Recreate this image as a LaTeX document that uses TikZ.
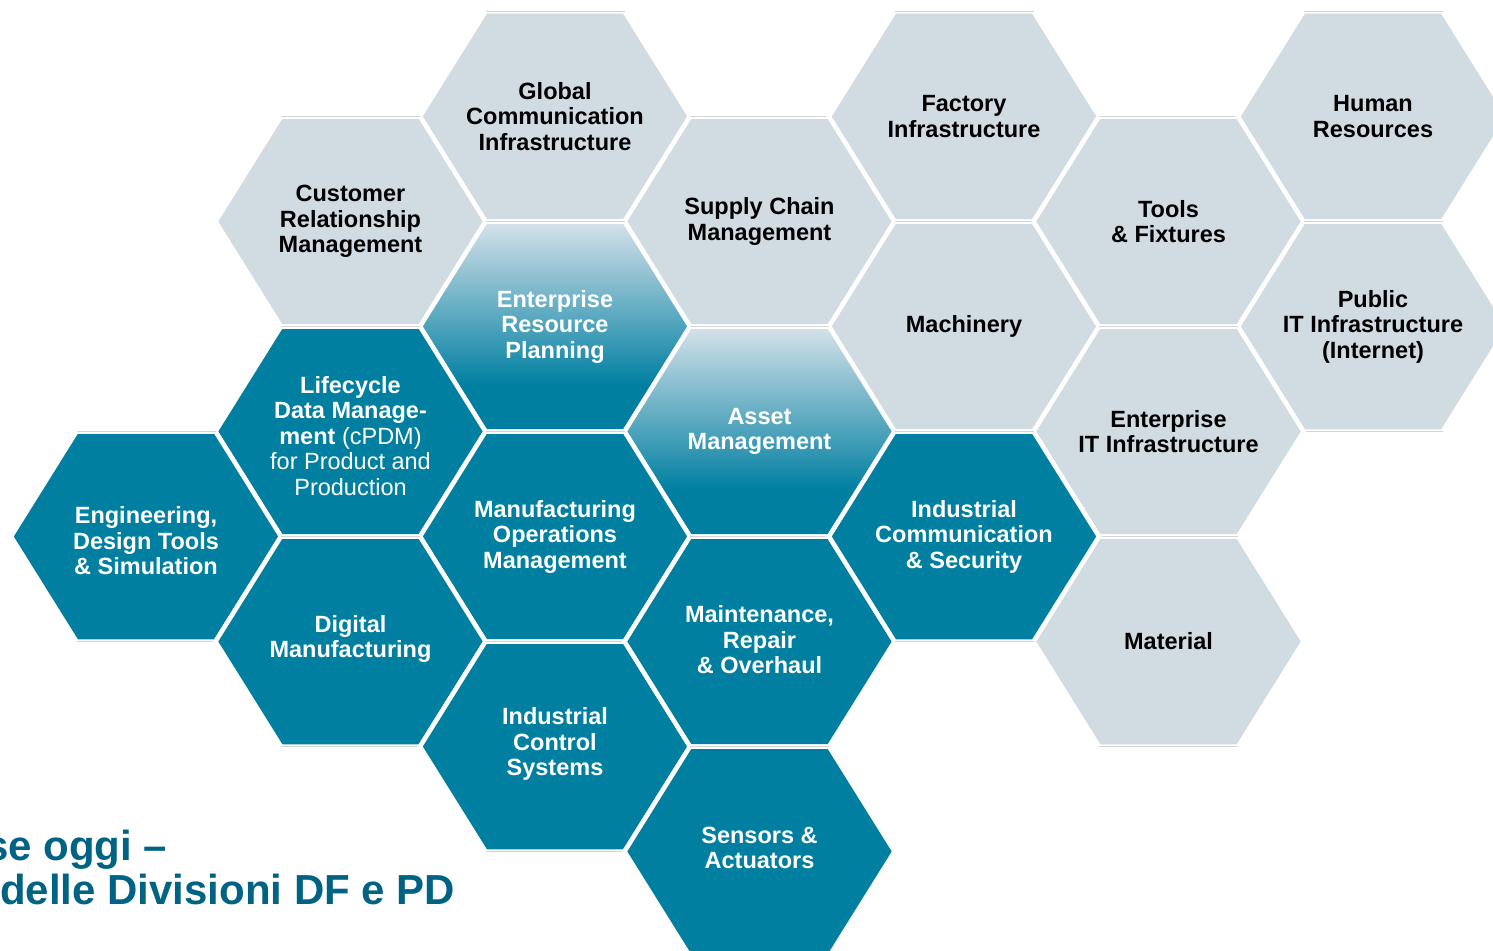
\documentclass[tikz,border=0pt]{standalone}
\usepackage{fontspec}
\setmainfont{Liberation Sans}
\definecolor{hexgrey}{RGB}{208,219,226}
\definecolor{hexteal}{RGB}{0,127,161}
\definecolor{hexlight}{RGB}{214,226,234}
\definecolor{titleblue}{RGB}{0,99,132}
\pgfdeclareverticalshading{erpfade}{100bp}{color(0bp)=(hexteal); color(36bp)=(hexteal); color(75bp)=(hexlight); color(100bp)=(hexlight)}
\tikzset{
	cell/.style={draw=white,line width=4.5pt,line join=miter},
	greycell/.style={cell,fill=hexgrey},
	tealcell/.style={cell,fill=hexteal},
	fadecell/.style={cell,shade,shading=erpfade},
	hexedge/.style={draw=black!17,line width=0.8pt},
	celltext/.style={align=center,inner sep=0pt,font={\fontsize{23.5}{25.5}\selectfont\bfseries}},
	darktext/.style={celltext,text=black},
	lighttext/.style={celltext,text=white},
	titletext/.style={anchor=base west,inner sep=0pt,text=titleblue,font={\fontsize{42}{46}\selectfont\bfseries}}
}
\newcommand{\hexcell}[3]{%
	\path[#1] (#2-\hr,#3) -- (#2-\ha,#3-\hh) -- (#2+\ha,#3-\hh) -- (#2+\hr,#3) -- (#2+\ha,#3+\hh) -- (#2-\ha,#3+\hh) -- cycle;
	\draw[hexedge] (#2-\ha,#3-\hh) -- (#2+\ha,#3-\hh) (#2-\ha,#3+\hh) -- (#2+\ha,#3+\hh);
}
\begin{document}
\begin{tikzpicture}[x=1pt,y=-1pt]
	\def\hr{135}
	\def\ha{69.5}
	\def\hh{105}
	\useasboundingbox (0,0) rectangle (1493,950);
	\clip (0,0) rectangle (1493,950);
	% grey cells
	\hexcell{greycell}{555}{116.5}
	\hexcell{greycell}{350.5}{221.5}
	\hexcell{greycell}{759.5}{221.5}
	\hexcell{greycell}{964}{116.5}
	\hexcell{greycell}{964}{326.5}
	\hexcell{greycell}{1168.5}{221.5}
	\hexcell{greycell}{1373}{116.5}
	\hexcell{greycell}{1373}{326.5}
	\hexcell{greycell}{1168.5}{431.5}
	\hexcell{greycell}{1168.5}{641.5}
	% faded cells
	\hexcell{fadecell}{555}{326.5}
	\hexcell{fadecell}{759.5}{431.5}
	% teal cells
	\hexcell{tealcell}{350.5}{431.5}
	\hexcell{tealcell}{146}{536.5}
	\hexcell{tealcell}{555}{536.5}
	\hexcell{tealcell}{350.5}{641.5}
	\hexcell{tealcell}{555}{746.5}
	\hexcell{tealcell}{759.5}{641.5}
	\hexcell{tealcell}{759.5}{851.5}
	\hexcell{tealcell}{964}{536.5}

	\node[darktext] (gci) at (555,116.5) {Global\\Communication\\Infrastructure};
	\node[darktext] (crm) at (350.5,221.5) {Customer\\Relationship\\Management};
	\node[darktext] (scm) at (759.5,221.5) {Supply Chain\\Management};
	\node[darktext] (factory) at (964,116.5) {Factory\\Infrastructure};
	\node[darktext] (machinery) at (964,326.5) {Machinery};
	\node[darktext] (tools) at (1168.5,221.5) {Tools\\\& Fixtures};
	\node[darktext] (hr) at (1373,116.5) {Human\\Resources};
	\node[darktext] (pubit) at (1373,326.5) {Public\\IT Infrastructure\\(Internet)};
	\node[darktext] (entit) at (1168.5,431.5) {Enterprise\\IT Infrastructure};
	\node[darktext] (material) at (1168.5,641.5) {Material};
	\node[lighttext] (erp) at (555,326.5) {Enterprise\\Resource\\Planning};
	\node[lighttext] (asset) at (759.5,431.5) {Asset\\Management};
	\node[lighttext] (cpdm) at (350.5,436) {Lifecycle\\Data Manage-\\ment {\mdseries(cPDM)}\\{\mdseries for Product and}\\{\mdseries Production}};
	\node[lighttext] (eng) at (146,541) {Engineering,\\Design Tools\\\& Simulation};
	\node[lighttext] (mom) at (555,536.5) {Manufacturing\\Operations\\Management};
	\node[lighttext] (digital) at (350.5,639) {Digital\\Manufacturing};
	\node[lighttext] (ics) at (555,744) {Industrial\\Control\\Systems};
	\node[lighttext] (mro) at (759.5,640) {Maintenance,\\Repair\\\& Overhaul};
	\node[lighttext] (sensors) at (759.5,848) {Sensors \&\\Actuators};
	\node[lighttext] (indcomm) at (964,536.5) {Industrial\\Communication\\\& Security};

	\node[titletext] (title) at (-15,860) {se oggi –};
	\node[titletext] (subtitle) at (0,904) {delle Divisioni DF e PD};
\end{tikzpicture}
\end{document}
